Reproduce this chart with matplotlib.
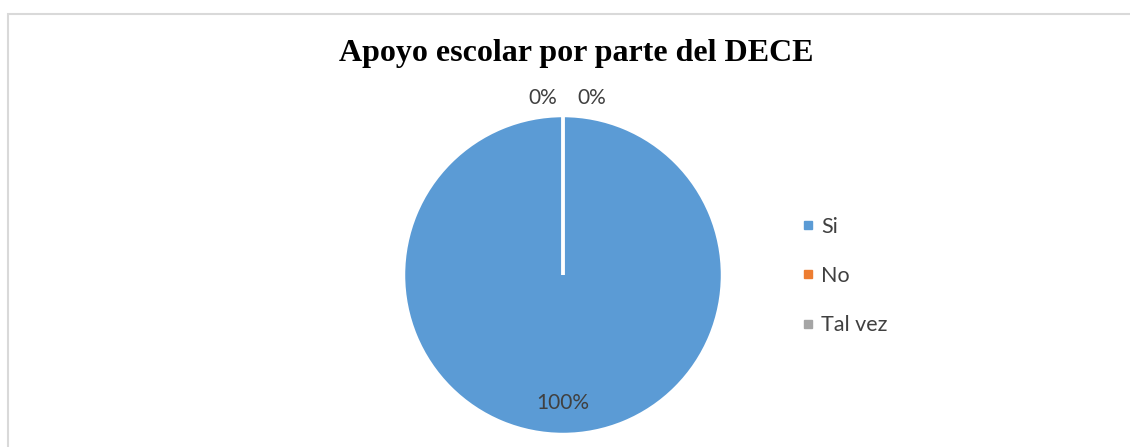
import matplotlib.pyplot as plt
from matplotlib.lines import Line2D
from matplotlib.patches import Rectangle

# datos
categorias = ['Si', 'No', 'Tal vez']
valores = [100, 0, 0]
colores = ['#5B9BD5', '#ED7D31', '#A5A5A5']
titulo = 'Apoyo escolar por parte del DECE'

W, H = 1130, 447
fig = plt.figure(figsize=(W/100, H/100), dpi=100)

# borde del area del grafico
fig.patches.append(Rectangle((8/W, -0.1), 1.2, (H-14)/H+0.1, transform=fig.transFigure,
                             fill=False, edgecolor='#d9d9d9', linewidth=1.5))

# pie centrado en (563, 275) px, radio ~159 px
cx, cy, r = 563, 275, 159.5
ax = fig.add_axes([(cx-r)/W, (H-cy-r)/H, 2*r/W, 2*r/H])
wedges, textos, pcts = ax.pie(valores, colors=colores, startangle=90, counterclock=False,
                              autopct='%1.0f%%', pctdistance=0.8,
                              wedgeprops=dict(edgecolor='white', linewidth=2.5),
                              textprops=dict(family='Lato', fontsize=15, color='#404040'))
ax.set_xlim(-1, 1)
ax.set_ylim(-1, 1)
ax.set_aspect('equal')

# etiquetas de los 0% fuera del pie, arriba
offs = [-0.13, 0.18]
k = 0
for v, t in zip(valores, pcts):
    if v == 0:
        t.set_position((offs[k], 1.11))
        k += 1

fig.text(576/W, (H-54)/H, titulo, ha='center', va='center',
         family='Liberation Serif', fontweight='bold', fontsize=23)

handles = [Line2D([], [], marker='s', linestyle='none', markersize=6,
                  markerfacecolor=c, markeredgecolor=c) for c in colores]
fig.legend(handles, categorias, loc='center left', bbox_to_anchor=(790/W, (H-276)/H),
           frameon=False, prop=dict(family='Lato', size=15.5), labelcolor='#404040',
           handlelength=0.7, handletextpad=0.25, labelspacing=1.35, borderpad=0)

fig.savefig('out.png', dpi=100)
